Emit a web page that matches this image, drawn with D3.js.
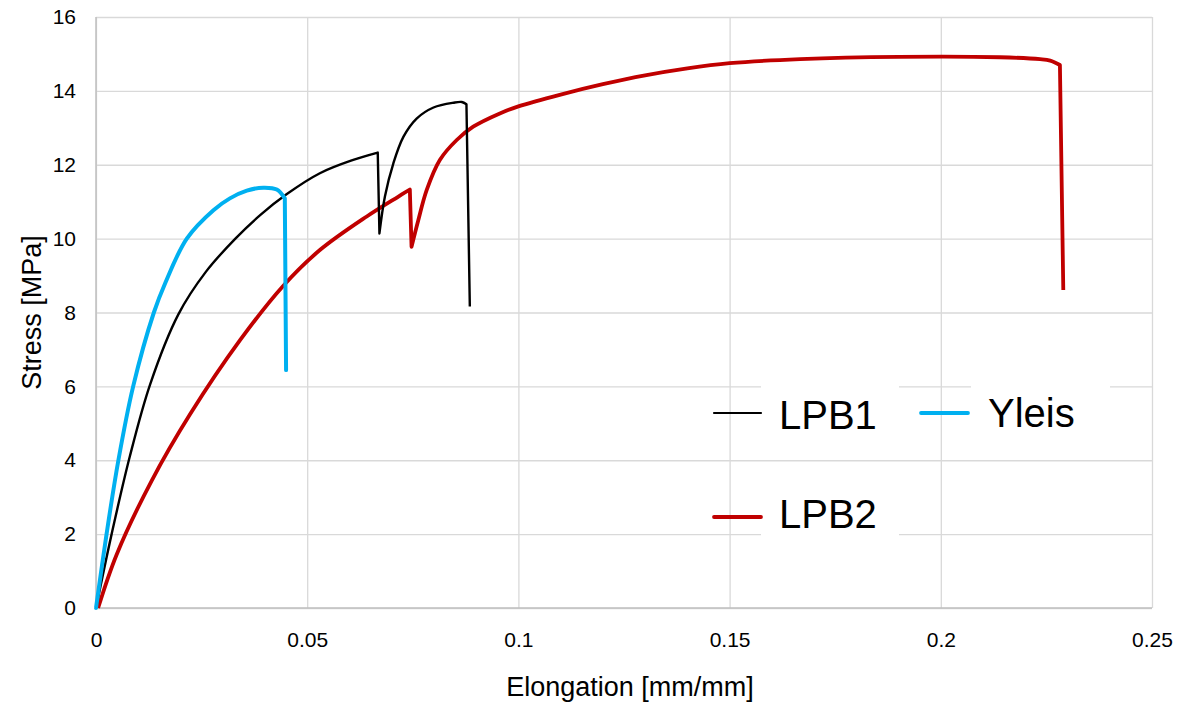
<!DOCTYPE html>
<html>
<head>
<meta charset="utf-8">
<script src="https://cdn.jsdelivr.net/npm/d3@7"></script>
<style>
  body { margin: 0; background: #fff; }
  text { font-family: "Liberation Sans", Arial, sans-serif; fill: #000; }
</style>
</head>
<body>
<div id="chart"></div>
<script>
// values
const xTicks = [0, 0.05, 0.1, 0.15, 0.2, 0.25]
const xTickLabels = ["0", "0.05", "0.1", "0.15", "0.2", "0.25"]
const yTicks = [0, 2, 4, 6, 8, 10, 12, 14, 16]
const yTickLabels = ["0", "2", "4", "6", "8", "10", "12", "14", "16"]

const seriesNames = ["LPB1", "LPB2", "Yleis"]

const lpb1Strain = [0, 0.0037, 0.0080, 0.0128, 0.0195, 0.0260, 0.0330, 0.0390, 0.0451, 0.0530, 0.0609, 0.0667,
    0.0671, 0.0684, 0.0704, 0.0728, 0.0759, 0.0799, 0.0846, 0.0866, 0.0877, 0.0885]
const lpb1Stress = [0, 2, 4.1, 6.05, 7.95, 9.1, 10.0, 10.65, 11.2, 11.77, 12.13, 12.33,
    10.14, 11.14, 12.04, 12.76, 13.25, 13.55, 13.68, 13.70, 13.64, 8.16]

const lpb2Strain = [0.0005, 0.0049, 0.0132, 0.0223, 0.0341, 0.0443, 0.0530, 0.0641, 0.0716, 0.0743,
    0.0747, 0.0763, 0.0783, 0.0814, 0.0854, 0.0893, 0.0956, 0.100, 0.110, 0.120, 0.130, 0.140, 0.150,
    0.1667, 0.190, 0.214, 0.2235, 0.2259, 0.2282, 0.2290]
const lpb2Stress = [0, 1.45, 3.45, 5.25, 7.25, 8.72, 9.69, 10.6, 11.14, 11.33,
    9.78, 10.50, 11.32, 12.13, 12.67, 13.03, 13.39, 13.58, 13.90, 14.18, 14.42, 14.61, 14.75,
    14.86, 14.92, 14.91, 14.86, 14.82, 14.70, 8.61]

const yleisStrain = [0, 0.0025, 0.0053, 0.0088, 0.0137, 0.0164, 0.0215, 0.0278,
    0.0317, 0.0357, 0.0396, 0.0428, 0.0447, 0.0450]
const yleisStress = [0, 2, 4, 6, 8, 8.8, 10, 10.77,
    11.09, 11.30, 11.38, 11.33, 11.09, 6.44]

const margin = { top: 17, right: 28, bottom: 105, left: 96 },
    width = 1180 - margin.left - margin.right,
    height = 713 - margin.top - margin.bottom;

const svg = d3.select("#chart")
    .append("svg")
    .attr("width", 1180)
    .attr("height", 713)

const g = svg.append("g")
    .attr("transform", `translate(${margin.left},${margin.top})`);

let x = d3.scaleLinear().domain([0, 0.25]).range([0, width])
let y = d3.scaleLinear().domain([0, 16]).range([height, 0])

// grid + tick labels
let xAxis = g.append("g")
    .attr("transform", "translate(0," + height + ")")
    .call(d3.axisBottom(x)
        .tickValues(xTicks)
        .tickSize(-height)
        .tickFormat(function (d, i) { return xTickLabels[i] }))
xAxis.select(".domain").remove()
xAxis.selectAll("line").attr("stroke", "#d9d9d9").attr("stroke-width", 1.3)
xAxis.selectAll("text")
    .attr("y", 39)
    .attr("dy", null)
    .attr("font-size", "21px")
    .attr("font-family", "Liberation Sans, Arial, sans-serif")
    .attr("fill", "#000")

let yAxis = g.append("g")
    .call(d3.axisLeft(y)
        .tickValues(yTicks)
        .tickSize(-width)
        .tickFormat(function (d, i) { return yTickLabels[i] }))
yAxis.select(".domain").remove()
yAxis.selectAll("line").attr("stroke", "#d9d9d9").attr("stroke-width", 1.3)
yAxis.selectAll("text")
    .attr("x", -20)
    .attr("font-size", "21px")
    .attr("font-family", "Liberation Sans, Arial, sans-serif")
    .attr("fill", "#000")

// axis lines
g.append("line")
    .attr("x1", 0).attr("x2", width)
    .attr("y1", height).attr("y2", height)
    .attr("stroke", "#bfbfbf").attr("stroke-width", 1.5)
g.append("line")
    .attr("x1", 0).attr("x2", 0)
    .attr("y1", 0).attr("y2", height)
    .attr("stroke", "#bfbfbf").attr("stroke-width", 1.5)

// axis titles
svg.append("text")
    .attr("x", margin.left + width / 2 + 6)
    .attr("y", 696)
    .attr("text-anchor", "middle")
    .attr("font-size", "27px")
    .text("Elongation [mm/mm]")

svg.append("text")
    .attr("transform", `translate(41,${margin.top + height / 2}) rotate(-90)`)
    .attr("text-anchor", "middle")
    .attr("font-size", "27px")
    .text("Stress [MPa]")

// curves: smooth between breaks, straight across the sudden drops
const line = d3.line()
    .x(function (d) { return x(d[0]) })
    .y(function (d) { return y(d[1]) })
    .curve(d3.curveCatmullRom.alpha(0.5))

function curvePath(xs, ys) {
    let pts = xs.map(function (v, i) { return [v, ys[i]] })
    let segs = [[pts[0]]]
    for (let i = 1; i < pts.length; i++) {
        if (pts[i][1] < pts[i - 1][1] - 1) segs.push([pts[i]])
        else segs[segs.length - 1].push(pts[i])
    }
    return segs.map(function (s, i) {
        let d = line(s).replace(/Z$/, "")
        return i === 0 ? d : "L" + d.slice(1)
    }).join("")
}

g.append("path")
    .attr("fill", "none")
    .attr("stroke", "#c00000")
    .attr("stroke-width", 3.8)
    .attr("stroke-linejoin", "round")
    .attr("d", curvePath(lpb2Strain, lpb2Stress))

g.append("path")
    .attr("fill", "none")
    .attr("stroke", "#000000")
    .attr("stroke-width", 2.4)
    .attr("stroke-linejoin", "round")
    .attr("d", curvePath(lpb1Strain, lpb1Stress))

g.append("path")
    .attr("fill", "none")
    .attr("stroke", "#00b0f0")
    .attr("stroke-width", 4)
    .attr("stroke-linejoin", "round")
    .attr("stroke-linecap", "round")
    .attr("d", curvePath(yleisStrain, yleisStress))

// legend
const legendItems = [
    { name: seriesNames[0], color: "#000000", w: 2.2, lx: 714, tx: 779, ly: 413, ty: 429, box: [761, 383, 138, 56] },
    { name: seriesNames[2], color: "#00b0f0", w: 3.8, lx: 921, tx: 988, ly: 413, ty: 427, box: [971, 383, 139, 56] },
    { name: seriesNames[1], color: "#c00000", w: 3.8, lx: 714, tx: 779, ly: 517, ty: 528, box: [761, 482, 138, 56] }
]
let legend = svg.append("g")
legendItems.forEach(function (d) {
    legend.append("rect")
        .attr("x", d.box[0]).attr("y", d.box[1])
        .attr("width", d.box[2]).attr("height", d.box[3])
        .attr("fill", "#fff")
    legend.append("line")
        .attr("x1", d.lx).attr("x2", d.lx + 47)
        .attr("y1", d.ly).attr("y2", d.ly)
        .attr("stroke", d.color)
        .attr("stroke-width", d.w)
        .attr("stroke-linecap", "round")
    legend.append("text")
        .attr("x", d.tx)
        .attr("y", d.ty)
        .attr("font-size", "40px")
        .text(d.name)
})
</script>
</body>
</html>
